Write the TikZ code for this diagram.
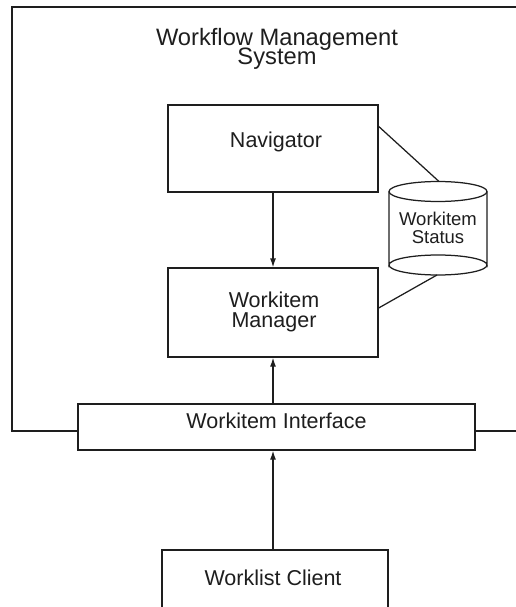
\documentclass[tikz,border=0pt]{standalone}
\usepackage{fontspec}
\setmainfont{Liberation Sans}
\usetikzlibrary{arrows.meta,calc}
\definecolor{ink}{HTML}{1E1E1E}
\begin{document}
\begin{tikzpicture}[x=1pt,y=-1pt,
  line/.style={draw=ink,line width=1.25pt},
  box/.style={line,fill=white,rectangle,inner sep=0pt},
  lbl/.style={anchor=base,inner sep=0pt,text=ink,font=\fontsize{21.5}{24}\selectfont},
  small/.style={lbl,font=\fontsize{18.5}{20}\selectfont},
  big/.style={lbl,font=\fontsize{23.7}{26}\selectfont},
  flow/.style={line,-{Latex[length=9pt,width=6pt]}}]
\clip (0,0) rectangle (516,607);

% system frame (open to the right)
\draw[line] (12,7) rectangle (540,431);

% title
\node[big] (title1) at (277,46) {Workflow Management};
\node[big] (title2) at (277,64.5) {System};

% boxes
\node[box,minimum width=210pt,minimum height=87pt] (nav) at (273,148.5) {};
\node[lbl] (navtxt) at (276,147) {Navigator};

\node[box,minimum width=210pt,minimum height=89pt] (mgr) at (273,312.5) {};
\node[lbl] (mgrtxt1) at (274,307) {Workitem};
\node[lbl] (mgrtxt2) at (274,327) {Manager};

\node[box,minimum width=397pt,minimum height=46pt] (wi) at (276.5,427) {};
\node[lbl] (witxt) at (276.5,428) {Workitem Interface};

\node[box,minimum width=226pt,minimum height=100pt] (wlc) at (275,600) {};
\node[lbl] (wlctxt) at (273,585) {Worklist Client};

% status store (cylinder)
\draw[line,fill=white] (389,191.5) -- (389,265) arc[start angle=180,end angle=360,x radius=49,y radius=10] -- (487,191.5);
\draw[line] (438,191.5) ellipse [x radius=49,y radius=10];
\draw[line] (389,265) arc[start angle=180,end angle=0,x radius=49,y radius=10];
\coordinate (dbtop) at (439,181.5);
\coordinate (dbbot) at (437,275);
\node[small] (dbtxt1) at (438,225) {Workitem};
\node[small] (dbtxt2) at (438,243) {Status};

% connectors
\coordinate (navtap) at ($(nav.north east)+(0,22)$);
\coordinate (mgrtap) at ($(mgr.east)+(0,-4.5)$);
\draw[line] (navtap) -- (dbtop);
\draw[line] (mgrtap) -- (dbbot);

\draw[flow] (nav.south) -- (mgr.north);
\draw[flow] (mgr.south |- wi.north) -- (mgr.south);
\draw[flow] (mgr.south |- wlc.north) -- (mgr.south |- wi.south);
\end{tikzpicture}
\end{document}
